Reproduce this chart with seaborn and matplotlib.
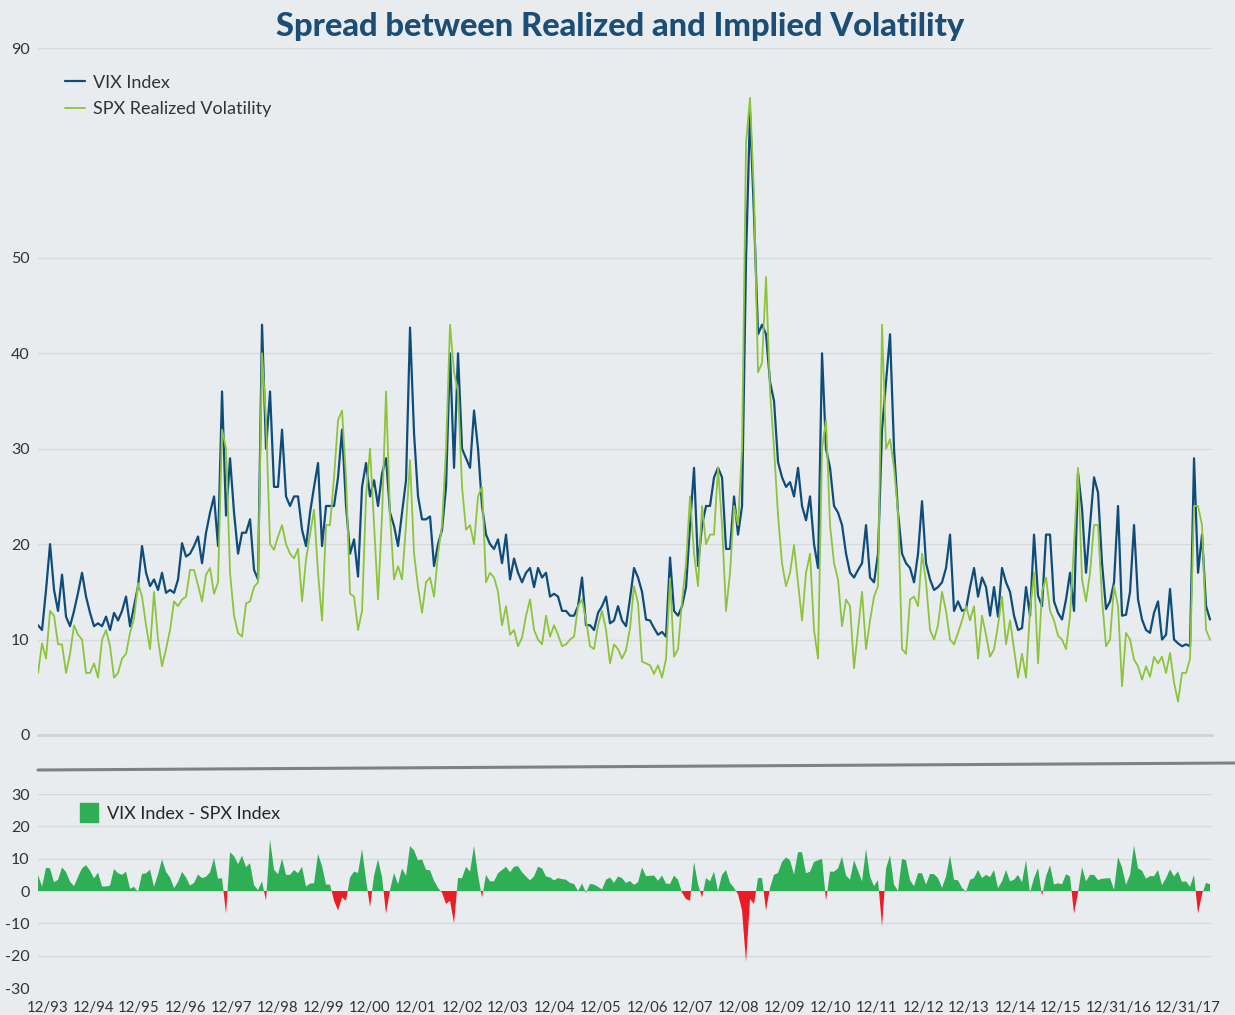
import numpy as np
import pandas as pd
import matplotlib.pyplot as plt
import seaborn as sns
from matplotlib.lines import Line2D
from matplotlib.patches import Patch

# monthly values, 12/93 .. 05/18
vix = [
    11.5,
    11, 15.2, 20, 15.2, 13, 16.8, 12.4, 11.4, 13, 14.9, 17, 14.5,          # 1994
    12.8, 11.4, 11.7, 11.4, 12.4, 11, 12.8, 12, 13, 14.5, 11.4, 13.5,      # 1995
    15.6, 19.8, 17, 15.6, 16.3, 15.2, 17, 14.9, 15.2, 14.9, 16.3, 20.1,    # 1996
    18.7, 19, 19.8, 20.8, 18, 21.2, 23.3, 25, 19.8, 36, 23, 29,            # 1997
    23.3, 19, 21.2, 21.2, 22.6, 17.3, 16.3, 43, 30, 36, 26, 26,            # 1998
    32, 25, 24, 25, 25, 21.5, 19.8, 23.3, 26, 28.5, 19.8, 24,              # 1999
    24, 24, 27, 32, 24, 19, 20.5, 16.6, 26, 28.5, 25, 26.7,                # 2000
    24, 27.4, 29, 23.3, 21.9, 19.8, 23.3, 26.7, 42.7, 31.6, 25, 22.6,      # 2001
    22.6, 22.9, 17.7, 20, 21.5, 26, 40, 28, 40, 30, 29, 28,                # 2002
    34, 30, 24, 21, 20, 19.5, 20.5, 18, 21, 16.3, 18.5, 17,                # 2003
    16, 17, 17.5, 15.5, 17.5, 16.5, 17, 14.5, 14.8, 14.5, 13, 13,          # 2004
    12.5, 12.5, 13.5, 16.5, 11.5, 11.5, 11, 12.8, 13.5, 14.5, 11.7, 12,    # 2005
    13.5, 12, 11.4, 14.3, 17.5, 16.5, 15, 12.1, 12, 11.2, 10.5, 10.8,      # 2006
    10.3, 18.6, 13, 12.5, 13.5, 15.5, 22, 28, 17.7, 22, 24, 24,            # 2007
    27, 28, 27, 19.5, 19.5, 25, 21, 24, 50, 78, 58, 42,                    # 2008
    43, 42, 37, 35, 28.6, 27, 26, 26.5, 25, 28, 24, 22.5,                  # 2009
    25, 20, 17.5, 40, 30, 28, 24, 23.3, 22, 19, 17, 16.5,                  # 2010
    17.3, 18, 22, 16.5, 16, 19, 32, 37, 42, 30, 23.3, 19,                  # 2011
    18, 17.5, 16, 19, 24.5, 18, 16.3, 15.2, 15.5, 16, 17.5, 21,            # 2012
    13, 14, 13, 13.2, 15.5, 17.5, 14.5, 16.5, 15.5, 12.5, 15.5, 12.4,      # 2013
    17.5, 16, 15, 12.5, 11, 11.2, 15.5, 12.5, 21, 14.6, 13.5, 21,          # 2014
    21, 14, 12.8, 12.1, 14.2, 17, 13, 27.5, 23.7, 17, 22, 27,              # 2015
    25.4, 18, 13.2, 14, 16, 24, 12.5, 12.6, 15, 22, 14.2, 12.1,            # 2016
    11, 10.7, 12.8, 14, 10, 10.5, 15.3, 10, 9.6, 9.3, 9.5, 9.3,            # 2017
    29, 17, 21, 13.5, 12.1,                                                # 2018
]

spx = [
    6.5,
    9.6, 8, 13, 12.5, 9.5, 9.5, 6.5, 8.5, 11.5, 10.5, 10, 6.5,             # 1994
    6.5, 7.5, 6, 10, 11, 9.3, 6, 6.5, 8, 8.5, 10.7, 12.2,                  # 1995
    15.9, 14.5, 11.5, 9, 15, 10, 7.2, 9, 11, 14, 13.5, 14.2,               # 1996
    14.5, 17.3, 17.3, 15.7, 14, 16.8, 17.5, 14.8, 16, 32, 30, 17,          # 1997
    12.5, 10.7, 10.3, 13.8, 14, 15.5, 16, 40, 33, 20, 19.4, 20.8,          # 1998
    22, 20, 19, 18.5, 19.5, 14, 18.4, 21, 23.6, 17, 12, 22,                # 1999
    22, 27, 33, 34, 27, 14.8, 14.5, 11, 13, 25, 30, 22,                    # 2000
    14.2, 23, 36, 23, 16.3, 17.7, 16.3, 22, 28.8, 19, 15.5, 12.8,          # 2001
    16, 16.5, 14.5, 19, 22, 30, 43, 38, 36, 26, 21.5, 22,                  # 2002
    20, 25, 26, 16, 17, 16.5, 15, 11.5, 13.5, 10.5, 11, 9.3,               # 2003
    10.2, 12.5, 14.2, 11, 10, 9.5, 12.5, 10.3, 11.5, 10.5, 9.3, 9.5,       # 2004
    10, 10.3, 13.5, 14.2, 12, 9.3, 9, 11.5, 13, 11, 7.5, 9.5,              # 2005
    9, 8, 8.9, 11.2, 15.6, 13.8, 7.7, 7.5, 7.3, 6.4, 7.3, 6,               # 2006
    8, 16.4, 8.2, 9, 14, 18, 25, 19, 15.6, 24, 20, 21,                     # 2007
    21, 28, 22, 13, 17, 24, 22, 30, 72, 80.5, 62, 38,                      # 2008
    39, 48, 36, 30, 23, 18, 15.6, 17, 19.9, 16, 12, 17,                    # 2009
    19, 11, 8, 30, 33, 22, 18, 16.3, 11.4, 14.2, 13.5, 7,                  # 2010
    11, 15, 9, 12, 14.5, 15.6, 43, 30, 31, 28, 23.3, 9,                    # 2011
    8.5, 14.2, 14.5, 13.5, 19, 16, 11, 10, 11.5, 15, 13, 10,               # 2012
    9.5, 10.7, 12, 13.5, 12, 13.5, 8, 12.5, 10.5, 8.2, 9, 11.5,            # 2013
    14.5, 9.5, 12, 9, 6, 8.5, 6, 13, 17, 7.5, 15, 16.5,                    # 2014
    13, 12, 10.4, 10, 9, 12.5, 20, 28, 16.3, 14, 17, 22,                   # 2015
    22, 14.2, 9.3, 10, 15.6, 13.5, 5.1, 10.7, 10, 7.9, 7.2, 5.8,           # 2016
    7.2, 6.1, 8.2, 7.5, 8.2, 6.5, 8.6, 5.5, 3.5, 6.5, 6.5, 8,              # 2017
    24, 24, 22, 11, 10,                                                    # 2018
]

date_labels = ['12/93', '12/94', '12/95', '12/96', '12/97', '12/98', '12/99', '12/00',
               '12/01', '12/02', '12/03', '12/04', '12/05', '12/06', '12/07', '12/08',
               '12/09', '12/10', '12/11', '12/12', '12/13', '12/14', '12/15',
               '12/31/16', '12/31/17']
label_pos = [2.4, 13.75, 25.25, 36.75, 48.25, 60, 71.5, 83, 94.5, 106, 117.5, 129,
             140.75, 152.25, 163.5, 175.25, 186.75, 198.25, 209.75, 221.25, 232.75,
             244.25, 255.75, 270.25, 287.5]

bg = '#e9ecef'
grid_c = '#d7dadd'
blue = '#0e4d79'
lime = '#8cc43c'
pos_c = '#2eaf55'
neg_c = '#ec1c24'

df = pd.DataFrame({'m': np.arange(len(vix)), 'vix': vix, 'spx': spx})
df['spread'] = df['vix'] - df['spx']

sns.set_style('white', {'axes.facecolor': bg, 'figure.facecolor': bg})
plt.rcParams['font.family'] = ['Lato', 'DejaVu Sans']

fig = plt.figure(figsize=(12.35, 10.15), dpi=100)
ax = fig.add_axes([0.0308, 0.2759, 0.9506, 0.6768])
ax2 = fig.add_axes([0.0308, 0.0266, 0.9506, 0.1911])

# top panel: y axis squeezed above 50
def fwd(y):
    y = np.asarray(y, dtype=float)
    return np.where(y <= 50, y, 50 + (y - 50) * 0.55)

def inv(z):
    z = np.asarray(z, dtype=float)
    return np.where(z <= 50, z, 50 + (z - 50) / 0.55)

ax.set_yscale('function', functions=(fwd, inv))
sns.lineplot(data=df, x='m', y='vix', ax=ax, color=blue, lw=1.6, label='VIX Index')
sns.lineplot(data=df, x='m', y='spx', ax=ax, color=lime, lw=1.3, label='SPX Realized Volatility')
ax.set_ylim(0, 90)
ax.set_xlim(0, 293.5)
ax.set_yticks([0, 10, 20, 30, 40, 50, 90])
ax.set_yticklabels(['0', '10', '20', '30', '40', '50', '90'])
ax.set_xticks(np.arange(0, 294, 12))
ax.set_xticklabels([])
ax.set_xlabel('')
ax.set_ylabel('')
ax.grid(axis='y', color=grid_c, lw=1)
ax.tick_params(axis='y', length=0, labelsize=11.5, labelcolor='#333333', pad=6)
ax.tick_params(axis='x', length=4, color='#cfd3d6', width=1)
for s in ['top', 'right', 'left']:
    ax.spines[s].set_visible(False)
ax.spines['bottom'].set_color('#cfd3d6')
ax.spines['bottom'].set_linewidth(2)
leg = ax.legend(loc='upper left', bbox_to_anchor=(0.009, 0.985), frameon=False,
                fontsize=13, handlelength=1.1, handletextpad=0.45, labelspacing=0.6)
for t in leg.get_texts():
    t.set_color('#333333')

fig.suptitle('Spread between Realized and Implied Volatility', x=0.502, y=0.988,
             fontsize=23.5, fontweight='black', color='#1c4e75')

# bottom panel: spread
ax2.fill_between(df['m'], 0, df['spread'], where=df['spread'] >= 0,
                 interpolate=True, color=pos_c, lw=0)
ax2.fill_between(df['m'], 0, df['spread'], where=df['spread'] < 0,
                 interpolate=True, color=neg_c, lw=0)
ax2.set_ylim(-30, 30)
ax2.set_xlim(0, 293.5)
ax2.set_yticks(np.arange(-30, 31, 10))
ax2.set_yticklabels([str(v) for v in range(-30, 31, 10)])
ax2.set_xticks(label_pos)
ax2.set_xticklabels(date_labels)
ax2.grid(axis='y', color=grid_c, lw=1)
ax2.tick_params(axis='y', length=0, labelsize=11.5, labelcolor='#333333', pad=6)
ax2.tick_params(axis='x', length=0, labelsize=10.8, labelcolor='#333333', pad=9)
for s in ax2.spines.values():
    s.set_visible(False)
ax2.legend(handles=[Patch(color=pos_c, label='VIX Index - SPX Index')],
           loc='upper left', bbox_to_anchor=(0.022, 1.035), frameon=False, fontsize=13,
           handlelength=1.0, handleheight=1.2, handletextpad=0.5)

# separator between panels
fig.add_artist(Line2D([38 / 1235, 1.0], [1 - 770 / 1015, 1 - 763 / 1015],
                      color='#808080', lw=2.2, transform=fig.transFigure))

fig.savefig('out.png', dpi=100, facecolor=bg)
